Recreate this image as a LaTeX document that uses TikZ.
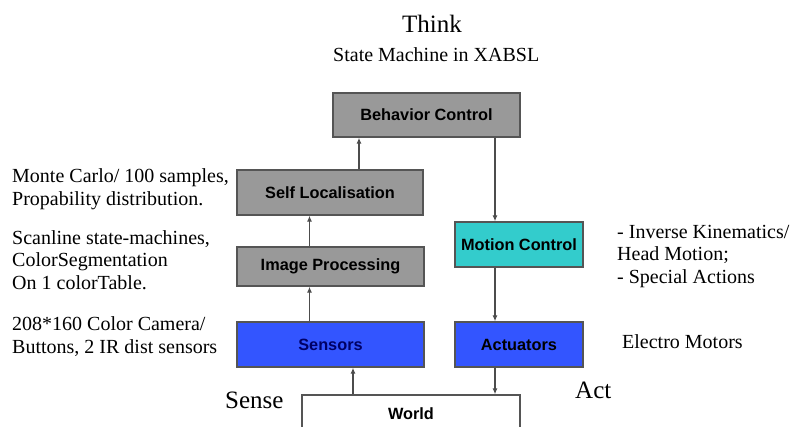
\documentclass[tikz,border=0pt]{standalone}
\usepackage{fontspec}
\setmainfont{Liberation Serif}
\newfontfamily\boxfont{Liberation Sans}
\usetikzlibrary{arrows.meta}

\definecolor{boxgray}{HTML}{999999}
\definecolor{boxblue}{HTML}{3355FF}
\definecolor{boxcyan}{HTML}{33CCCC}
\definecolor{edgegray}{HTML}{555555}
\definecolor{navytext}{HTML}{000066}

\begin{document}
\begin{tikzpicture}[x=1pt, y=-1pt,
  blk/.style={draw=edgegray, line width=1.3pt, minimum height=45pt, inner sep=0pt,
    font=\boxfont\bfseries\fontsize{16.3}{19}\selectfont},
  arr/.style={-{Latex[length=6pt,width=5pt]}, draw=black!70, line width=1.5pt},
  note/.style={anchor=base west, inner sep=0pt, align=left,
    font=\fontsize{20}{22.5}\selectfont},
  big/.style={anchor=base, inner sep=0pt, font=\fontsize{25}{28}\selectfont}]
  \clip (0,0) rectangle (801,426);
  \fill[white] (0,0) rectangle (801,426);

  % boxes
  \node[blk, fill=boxgray, minimum width=187pt, minimum height=44pt] (behave) at (426.5,115) {Behavior Control};
  \node[blk, fill=boxgray, minimum width=186pt] (selfloc) at (330,192.5) {Self Localisation};
  \node[blk, fill=boxgray, minimum width=187pt, minimum height=39pt] (imgproc) at (330.5,266.5) {Image Processing};
  \node[blk, fill=boxblue, minimum width=187pt, text=navytext] (sensors) at (330.5,344.5) {Sensors};
  \node[blk, fill=boxcyan, minimum width=128pt] (motion) at (519,244.5) {Motion Control};
  \node[blk, fill=boxblue, minimum width=128pt] (actuators) at (519,344.5) {Actuators};
  \node[blk, fill=white, minimum width=218pt, minimum height=38pt] (world) at (411,414) {World};

  % connectors
  \draw[arr] ([xshift=29pt]selfloc.north) -- ([xshift=29pt]selfloc.north |- behave.south);
  \draw[arr] ([xshift=-21pt]imgproc.north) -- ([xshift=-21pt]imgproc.north |- selfloc.south);
  \draw[arr] ([xshift=-21pt]sensors.north) -- ([xshift=-21pt]sensors.north |- imgproc.south);
  \draw[arr] ([xshift=-58pt]world.north) -- ([xshift=-58pt]world.north |- sensors.south);
  \draw[arr] ([xshift=-24pt]motion.north |- behave.south) -- ([xshift=-24pt]motion.north);
  \draw[arr] ([xshift=-24pt]motion.south) -- ([xshift=-24pt]actuators.north);
  \draw[arr] ([xshift=-24pt]actuators.south) -- ([xshift=-24pt]actuators.south |- world.north);

  % labels (base = last line)
  \node[big] (think) at (432,32) {Think};
  \node[note] (xabsl) at (333,61) {State Machine in XABSL};
  \node[note] (loctext) at (12,205) {Monte Carlo/ 100 samples,\\Propability distribution.};
  \node[note] (imgtext) at (12,289) {Scanline state-machines,\\ColorSegmentation\\On 1 colorTable.};
  \node[note] (sentext) at (12,353) {208*160 Color Camera/\\Buttons, 2 IR dist sensors};
  \node[note] (mottext) at (617,283) {- Inverse Kinematics/\\Head Motion;\\- Special Actions};
  \node[note] (acttext) at (622,348) {Electro Motors};
  \node[big, anchor=base west] (sense) at (225,408) {Sense};
  \node[big, anchor=base west] (act) at (575,398) {Act};
\end{tikzpicture}
\end{document}
